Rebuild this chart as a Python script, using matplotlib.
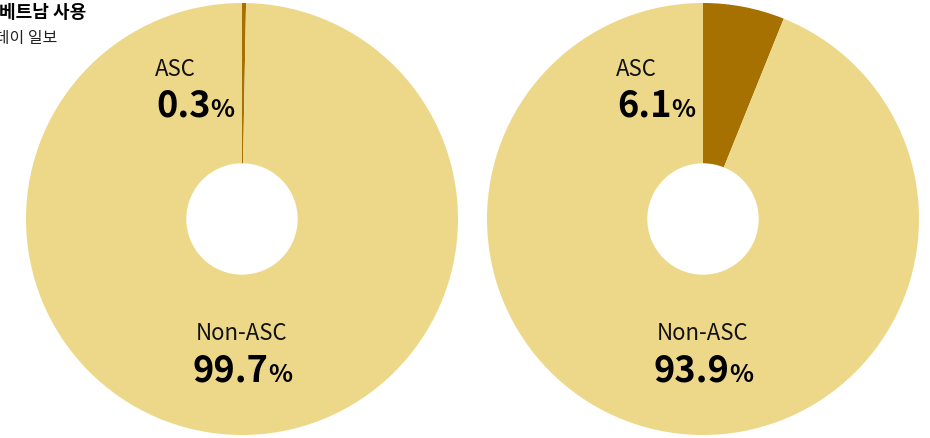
import matplotlib.pyplot as plt

plt.rcParams['font.family'] = ['Noto Sans CJK KR', 'DejaVu Sans']

# ASC 비중 (%)
ASC = [0.3, 6.1]
NON_ASC = [99.7, 93.9]
LABELS = ["ASC", "Non-ASC"]

DARK = "#a67100"
LIGHT = "#edd88a"

fig = plt.figure(figsize=(9.3, 4.39), dpi=100)
ax = fig.add_axes([0, 0, 1, 1])

centers = [(242, 220), (703, 220)]
R = 216
HOLE = 55

for (cx, cy), a, n in zip(centers, ASC, NON_ASC):
    ax.pie([a, n], colors=[DARK, LIGHT], startangle=90, counterclock=False,
           center=(cx, -cy), radius=R, wedgeprops=dict(linewidth=0),
           frame=True)
    ax.add_patch(plt.Circle((cx, -cy), HOLE, color="white", zorder=3))
ax.set_xlim(0, 930)
ax.set_ylim(-439, 0)
ax.set_aspect("equal")
ax.axis("off")

fig.canvas.draw()
renderer = fig.canvas.get_renderer()


def value_label(x, y, value, ha):
    # 숫자는 굵게, % 기호는 작게 붙여서 표시
    num = ax.text(0, y, f"{value:.1f}", fontsize=26, fontweight="black",
                  ha="left", va="baseline", color="black")
    pct = ax.text(0, y, "%", fontsize=18, fontweight="bold",
                  ha="left", va="baseline", color="black")
    w1 = num.get_window_extent(renderer).width
    w2 = pct.get_window_extent(renderer).width
    total = w1 + w2
    x0 = x - total / 2 if ha == "center" else x
    num.set_x(x0)
    pct.set_x(x0 + w1)


for (cx, cy), a, n in zip(centers, ASC, NON_ASC):
    ax.text(cx - 87, -69, LABELS[0], fontsize=16, ha="left", va="center", color="#111111")
    value_label(cx - 86, -117, a, "left")
    ax.text(cx, -334, LABELS[1], fontsize=16, ha="center", va="center", color="#111111")
    value_label(cx, -382, n, "center")

fig.text(86 / 930, 1 - 13 / 439, "베트남 사용", fontsize=13, fontweight="bold",
         ha="right", va="center", color="black")
fig.text(57 / 930, 1 - 39 / 439, "투데이 일보", fontsize=11.5,
         ha="right", va="center", color="#222222")

fig.savefig("out.png", dpi=100)
